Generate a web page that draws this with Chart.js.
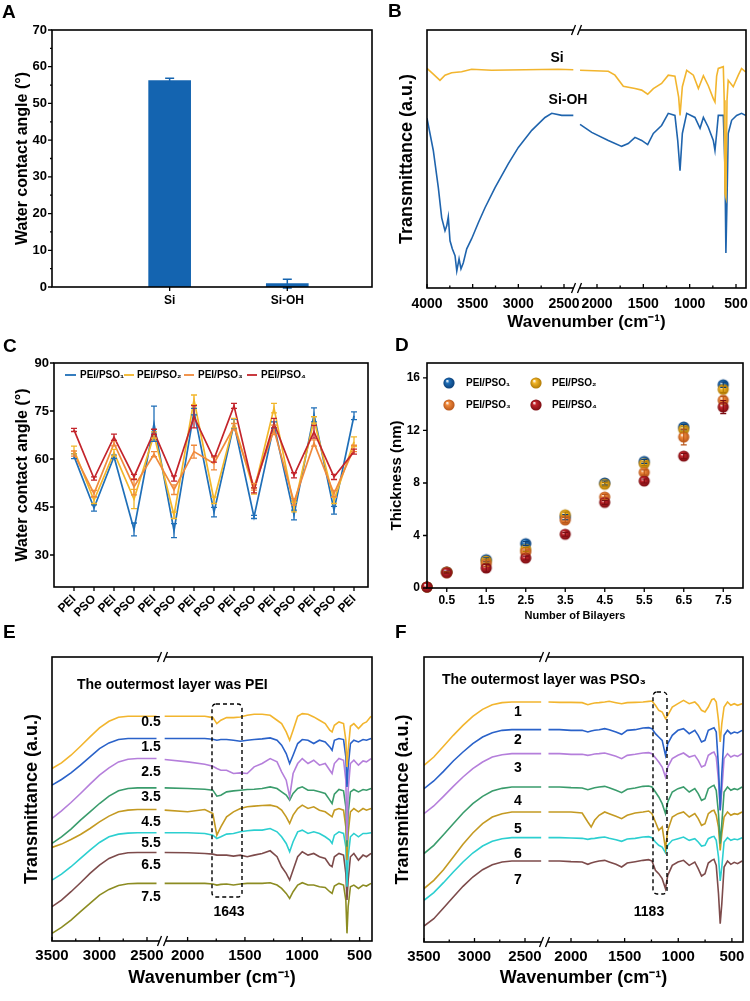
<!DOCTYPE html>
<html><head><meta charset="utf-8">
<script src="https://cdn.jsdelivr.net/npm/chart.js@4.4.1/dist/chart.umd.min.js"></script>
<style>
html,body{margin:0;padding:0;background:#fff}
body{width:750px;height:1001px;position:relative;overflow:hidden}
canvas{position:absolute}
</style></head><body>
<canvas id="cA" width="375" height="340" style="left:0;top:0"></canvas>
<canvas id="cB" width="375" height="340" style="left:375px;top:0"></canvas>
<canvas id="cC" width="375" height="290" style="left:0;top:335px"></canvas>
<canvas id="cD" width="375" height="290" style="left:375px;top:335px"></canvas>
<canvas id="cE" width="375" height="381" style="left:0;top:620px"></canvas>
<canvas id="cF" width="375" height="381" style="left:375px;top:620px"></canvas>
<script>
// ---------------- DATA ----------------
// Panel A
const catsA = ['Si', 'Si-OH'];
const angleA = [56.2, 0.9];
const angleErrA = [0.65, 1.2];

// Panel B (FTIR, transmittance a.u.)
const wnSiOH = [4000,3931,3876,3839,3803,3784,3767,3748,3723,3693,3674,3649,3628,3603,3565,3511,3438,3365,3255,3109,3000,2853,2708,2634,2525,2398,
  2183,2057,1878,1734,1663,1590,1518,1453,1392,1303,1231,1159,1129,1104,1079,1032,943,888,852,799,745,727,709,691,637,619,609,597,584,547,493,440,397];
const tSiOH = [65.8,53.3,38.9,27.2,22.2,24.1,27.6,18.3,15.2,12.5,6.6,11.3,7.4,9.7,15.2,19.1,25.3,31.1,38.9,48.2,54.5,61.1,66.1,67.7,66.9,66.9,
  63.4,60.3,57.2,54.9,56.0,58.4,57.2,55.6,59.9,63.0,67.7,66.9,57.2,45.5,59.9,67.7,66.1,61.9,66.1,62.3,57.2,53.3,59.9,66.9,66.9,46.7,13.6,33.9,59.9,65.0,66.9,67.7,66.9];
const wnSi = [4000,3931,3858,3803,3730,3621,3511,3293,2927,2563,2398,
  2183,1878,1806,1716,1590,1518,1453,1392,1303,1231,1159,1119,1104,1079,1032,960,906,852,799,745,727,709,691,637,627,619,609,597,584,530,475,440,397];
const tSi = [85.1,82.9,80.5,82.5,83.4,83.8,84.8,84.4,84.6,84.8,84.6,
  84.4,84.0,82.5,78.2,77.3,76.7,75.1,77.3,79.3,82.5,82.1,74.0,66.9,78.0,84.4,82.5,77.3,82.3,78.4,73.4,72.1,82.1,85.1,85.8,72.8,36.6,35.1,72.8,80.5,78.0,82.5,85.1,83.8];
const ticksB = [4000,3500,3000,2500,2000,1500,1000,500];
const minorB = [3750,3250,2750,1750,1250,750];

// Panel C
const layersC = ['PEI','PSO','PEI','PSO','PEI','PSO','PEI','PSO','PEI','PSO','PEI','PSO','PEI','PSO','PEI'];
const seriesNames = ['PEI/PSO\u2081','PEI/PSO\u2082','PEI/PSO\u2083','PEI/PSO\u2084'];
const wcaPSO1 = [60.9,44.7,60.7,38.0,71.0,37.6,74.8,43.4,71.0,41.9,70.6,42.5,73.8,44.0,73.5];
const wcaPSO2 = [62.8,47.1,62.0,47.5,67.5,42.4,78.5,47.1,71.2,50.0,75.9,45.0,72.2,47.1,65.4];
const wcaPSO3 = [61.7,49.2,64.9,51.3,61.5,50.4,62.3,58.6,70.1,51.3,69.1,46.6,65.0,49.2,63.3];
const wcaPSO4 = [69.1,53.9,66.8,54.4,68.5,53.9,73.2,60.0,76.6,50.2,71.2,54.9,68.5,54.4,62.3];
const wcaErr1 = [0.8,1.0,0.5,2.0,5.5,2.2,1.0,1.5,1.5,0.5,1.0,1.5,2.2,1.2,1.2];
const wcaErr2 = [1.2,1.0,1.0,3.0,1.0,1.0,1.5,1.0,1.5,1.0,1.5,1.5,1.0,1.0,1.5];
const wcaErr3 = [0.8,1.0,0.8,2.5,0.8,1.5,2.0,2.0,1.0,1.0,1.5,1.0,1.0,1.0,1.0];
const wcaErr4 = [0.5,0.5,1.0,0.8,0.8,0.8,3.5,1.0,0.8,0.8,1.5,0.8,2.0,0.8,0.8];

// Panel D
const bilayersD = [0,0.5,1.5,2.5,3.5,4.5,5.5,6.5,7.5];
const thkPSO1 = [0.08,1.22,2.16,3.38,5.40,8.00,9.64,12.26,15.48];
const thkPSO2 = [0.08,1.20,2.06,2.94,5.58,7.90,9.47,12.08,15.13];
const thkPSO3 = [0.08,1.19,1.85,2.74,5.18,6.93,8.80,11.50,14.30];
const thkPSO4 = [0.08,1.17,1.52,2.28,4.09,6.52,8.15,10.05,13.78];
const thkErr1 = [0,0.05,0.15,0.15,0.2,0.15,0.15,0.2,0.2];
const thkErr2 = [0,0.05,0.15,0.15,0.2,0.15,0.15,0.2,0.25];
const thkErr3 = [0,0.05,0.2,0.15,0.2,0.2,0.2,0.6,0.3];
const thkErr4 = [0,0.05,0.3,0.15,0.15,0.15,0.15,0.2,0.5];
const ticksD = [0.5,1.5,2.5,3.5,4.5,5.5,6.5,7.5];

// Panel E (outermost PEI)
const wnE = [3500,3400,3300,3200,3100,3000,2900,2800,2700,2600,2500,2400,
  2200,2000,1850,1780,1745,1710,1660,1600,1540,1480,1420,1350,1280,1220,1180,1140,1110,1080,1040,1000,950,900,850,800,760,740,720,680,640,620,610,600,580,550,510,470,440,400];
const labelsE = ['0.5','1.5','2.5','3.5','4.5','5.5','6.5','7.5'];
const specE05 = [515,532,555,582,610,637,657,669,672,672,672,672,
  672,672,672,668,650,660,668,668,670,675,678,678,675,660,650,625,600,630,672,680,678,670,660,650,630,625,645,655,650,600,520,570,642,650,635,650,655,672];
const specE15 = [465,482,502,525,550,575,592,602,605,605,605,605,
  605,605,605,603,600,602,602,600,597,600,602,604,607,600,585,560,530,555,590,602,600,590,600,595,580,570,600,605,602,550,460,520,590,600,595,602,600,605];
const specE25 = [365,388,413,440,468,495,517,535,543,545,545,545,
  542,535,528,522,515,510,510,500,502,500,520,530,545,535,505,480,430,500,530,545,530,540,525,530,510,500,530,545,540,480,300,450,530,540,525,538,535,545];
const specE35 = [290,310,333,360,385,410,432,448,455,457,457,457,
  457,455,453,450,432,435,445,448,450,452,453,455,460,455,445,435,420,440,455,460,450,450,445,440,420,410,438,452,448,400,280,380,445,452,445,452,450,455];
const specE45 = [278,288,302,317,335,355,372,385,390,392,392,392,
  390,385,392,380,315,340,370,385,395,400,402,404,405,400,390,370,350,375,395,405,395,400,390,385,375,370,390,395,390,340,240,320,385,395,385,395,390,395];
const specE55 = [180,198,220,245,270,293,310,318,321,322,322,322,
  322,322,320,315,305,310,318,320,325,328,330,330,335,325,310,290,265,295,325,330,320,325,320,310,300,290,315,325,320,280,160,250,310,320,310,320,320,322];
const specE65 = [100,120,145,172,200,225,245,257,262,263,263,263,
  263,262,260,258,255,255,255,252,255,250,255,260,268,250,220,200,180,210,250,265,255,260,250,245,225,220,250,260,255,200,120,180,250,260,240,255,250,260];
const specE75 = [20,38,60,85,110,135,152,164,169,170,170,170,
  170,170,170,168,165,167,168,165,168,170,170,170,172,165,155,140,125,145,165,172,165,165,160,158,145,140,162,170,165,120,20,100,160,165,155,165,162,170];
const ticksEF = [3500,3000,2500,2000,1500,1000,500];
const minorEF = [3250,2750,1750,1250,750];

// Panel F (outermost PSO3)
const wnF = [3500,3403,3307,3210,3114,3017,2920,2824,2727,2630,2534,2437,2340,
  2210,2106,2000,1896,1843,1812,1780,1738,1686,1644,1581,1528,1476,1402,1329,1276,1245,1213,1182,1150,1119,1098,1056,1003,951,898,846,814,783,751,720,688,667,646,625,609,594,573,541,510,478,447,405];
const labelsF = ['1','2','3','4','5','6','7'];
const specF1 = [525,550,582,615,645,672,693,707,713,715,715,715,715,
  715,714,714,713,707,710,712,713,715,717,713,710,713,714,715,717,718,705,690,685,665,675,700,710,720,710,715,705,690,685,700,722,725,715,660,595,650,700,715,705,710,705,710];
const specF2 = [455,478,507,538,565,590,610,623,630,632,632,632,632,
  632,632,630,630,625,628,630,632,635,632,625,618,630,632,637,638,635,620,610,600,555,590,615,630,635,620,630,615,595,600,630,635,638,625,520,390,500,615,630,620,625,622,630];
const specF3 = [380,403,432,462,490,515,535,550,557,560,560,560,560,
  560,560,558,558,555,557,559,560,562,558,552,545,555,558,562,563,560,548,535,520,490,520,545,555,562,550,555,540,520,525,555,562,565,550,480,390,450,545,560,550,555,552,560];
const specF4 = [260,285,317,350,382,410,432,448,456,460,460,460,460,
  460,460,458,457,452,455,458,460,462,458,450,443,453,457,462,463,460,445,430,410,380,415,445,455,460,445,455,440,420,425,455,462,465,450,380,290,350,445,460,450,455,452,460];
const specF5 = [155,180,212,250,288,322,350,370,380,385,385,385,385,
  385,385,385,382,355,340,360,375,385,380,372,365,375,382,385,388,380,355,330,340,275,330,370,380,385,370,380,365,345,350,380,388,390,375,340,270,320,370,385,375,380,378,385];
const specF6 = [120,143,173,205,235,262,283,297,305,308,308,308,308,
  308,308,307,306,303,305,306,308,310,306,302,297,304,306,310,311,308,295,285,280,263,285,300,305,310,300,305,295,283,285,305,310,312,300,250,178,220,295,308,300,304,302,308];
const specF7 = [43,65,97,130,162,190,212,227,235,238,238,238,238,
  238,238,236,235,228,232,235,238,240,235,228,220,232,236,240,242,238,210,200,185,155,195,225,235,240,225,235,215,193,200,232,240,243,225,140,50,110,220,238,228,234,230,238];

// ---------------- STYLE ----------------
const FONT = '"Liberation Sans", Arial, Helvetica, sans-serif';
Chart.defaults.font.family = FONT;
Chart.defaults.font.weight = 'bold';
Chart.defaults.color = '#000';
Chart.defaults.animation = false;

const colSeries = ['#1f6fb8', '#f2b62a', '#f08a3c', '#c3242b'];
const colE = ['#f2b52e', '#2a62c9', '#b57fdb', '#3a9c6c', '#c49a22', '#2ccfd0', '#7d4b4b', '#8c8c22'];
const colF = ['#f2b52e', '#2a62c9', '#b57fdb', '#3a9c6c', '#c49a22', '#2ccfd0', '#7d4b4b'];

function fit(size, isX) {
  return s => { if (isX) s.height = size; else s.width = size;
    s.paddingLeft = 0; s.paddingRight = 0; s.paddingTop = 0; s.paddingBottom = 0; };
}
function mapper(segs) {
  return w => { for (const s of segs) if (w >= s.lo && w <= s.hi) return s.u1 + (w - s.w1) * (s.u2 - s.u1) / (s.w2 - s.w1); return null; };
}
function brokenPoints(wn, vals, segs) {
  const m = mapper(segs); const out = []; let prev = null;
  wn.forEach((w, i) => {
    const si = segs.findIndex(s => w >= s.lo && w <= s.hi);
    if (prev !== null && si !== prev) out.push({x: out[out.length - 1].x, y: null});
    prev = si;
    out.push({x: m(w), y: vals[i]});
  });
  return out;
}
function ball(color, dark, r) {
  const c = document.createElement('canvas'); const s = Math.ceil(r * 2 + 2); c.width = c.height = s;
  const g = c.getContext('2d'); const m = s / 2;
  const gr = g.createRadialGradient(m - r * 0.35, m - r * 0.4, r * 0.05, m, m, r);
  gr.addColorStop(0, 'rgba(255,255,255,0.95)'); gr.addColorStop(0.3, color); gr.addColorStop(1, dark);
  g.fillStyle = gr; g.beginPath(); g.arc(m, m, r, 0, Math.PI * 2); g.fill();
  return c;
}

const decorCfg = {};
const decor = {
  id: 'decor',
  afterDatasetsDraw(chart) {
    const ctx = chart.ctx;
    chart.data.datasets.forEach((ds, di) => {
      if (!ds.errs) return;
      const meta = chart.getDatasetMeta(di);
      const ys = chart.scales[meta.yAxisID];
      ctx.save(); ctx.strokeStyle = ds.errColor || ds.borderColor; ctx.lineWidth = ds.errWidth || 1.2;
      meta.data.forEach((el, i) => {
        const e = ds.errs[i]; if (!e) return;
        const raw = ds.data[i]; const v = (typeof raw === 'object') ? raw.y : raw;
        const x = el.x, y1 = ys.getPixelForValue(v + e), y2 = ys.getPixelForValue(v - e);
        const c = ds.errCap || 3;
        ctx.beginPath(); ctx.moveTo(x, y1); ctx.lineTo(x, y2);
        ctx.moveTo(x - c, y1); ctx.lineTo(x + c, y1); ctx.moveTo(x - c, y2); ctx.lineTo(x + c, y2); ctx.stroke();
      });
      ctx.restore();
    });
  },
  afterDraw(chart) {
    const cfg = decorCfg[chart.canvas.id]; if (!cfg) return;
    const ctx = chart.ctx, a = chart.chartArea;
    ctx.save();
    ctx.strokeStyle = '#000'; ctx.lineWidth = 1.6;
    ctx.strokeRect(a.left, a.top, a.right - a.left, a.bottom - a.top);
    (cfg.ticks || []).forEach(t => {
      const sc = chart.scales[t.axis];
      ctx.lineWidth = 1.3; ctx.beginPath();
      t.values.forEach(v => {
        const p = sc.getPixelForValue(v); const d = t.out ? t.len : -t.len;
        if (t.axis === 'x') { ctx.moveTo(p, a.bottom); ctx.lineTo(p, a.bottom + d); }
        else { ctx.moveTo(a.left, p); ctx.lineTo(a.left - d, p); }
      });
      ctx.stroke();
    });
    (cfg.breaks || []).forEach(u => {
      const bx = chart.scales.x.getPixelForValue(u);
      [a.top, a.bottom].forEach(y => {
        ctx.fillStyle = '#fff'; ctx.fillRect(bx - 3, y - 2, 6, 4);
        ctx.beginPath(); ctx.lineWidth = 1.3; ctx.strokeStyle = '#000';
        ctx.moveTo(bx - 5.5, y + 5); ctx.lineTo(bx - 1.5, y - 5);
        ctx.moveTo(bx + 0.5, y + 5); ctx.lineTo(bx + 4.5, y - 5);
        ctx.stroke();
      });
    });
    (cfg.boxes || []).forEach(b => {
      ctx.save(); ctx.setLineDash([4, 3]); ctx.lineWidth = 1.4; ctx.strokeStyle = '#000';
      ctx.beginPath(); ctx.roundRect(b.x1, b.y1, b.x2 - b.x1, b.y2 - b.y1, 4); ctx.stroke(); ctx.restore();
    });
    if (cfg.legend) {
      const L = cfg.legend;
      L.items.forEach(it => {
        const ds = chart.data.datasets[it.ds];
        if (L.kind === 'line') {
          ctx.strokeStyle = ds.borderColor; ctx.lineWidth = 1.8; ctx.beginPath();
          ctx.moveTo(it.x1, it.y); ctx.lineTo(it.x2, it.y); ctx.stroke();
        } else {
          const img = ds.pointStyle; ctx.drawImage(img, it.x1 - img.width / 2, it.y - img.height / 2);
        }
        ctx.fillStyle = '#000'; ctx.font = `bold ${L.size}px ${FONT}`; ctx.textAlign = 'left'; ctx.textBaseline = 'middle';
        ctx.fillText(ds.label, it.tx, it.y);
      });
    }
    (cfg.texts || []).forEach(t => {
      ctx.save(); ctx.fillStyle = '#000';
      ctx.font = `bold ${t.size}px ${FONT}`;
      ctx.textAlign = t.align || 'center'; ctx.textBaseline = 'middle';
      ctx.translate(t.x, t.y); if (t.rot) ctx.rotate(t.rot * Math.PI / 180);
      ctx.fillText(t.t, 0, 0); ctx.restore();
    });
    ctx.restore();
  }
};
Chart.register(decor);

const noGrid = {display: false, drawTicks: false};
const base = (pad) => ({responsive: false, maintainAspectRatio: false, events: [],
  layout: {padding: pad}, plugins: {legend: {display: false}, tooltip: {enabled: false}}});

// ---------------- PANEL A ----------------
decorCfg.cA = {
  ticks: [{axis: 'y', values: [0,10,20,30,40,50,60,70], len: 4, out: true},
          {axis: 'y', values: [5,15,25,35,45,55,65], len: 2, out: true},
          {axis: 'x', values: [1,2], len: 4, out: true}],
  texts: [{t: 'A', x: 2, y: 13, size: 19, align: 'left'}]
};
new Chart(document.getElementById('cA'), {
  type: 'bar',
  data: {datasets: [{data: catsA.map((c, i) => ({x: i + 1, y: angleA[i]})), backgroundColor: '#1464b0',
    barThickness: 42, errs: angleErrA, errColor: '#1464b0', errCap: 4.5, errWidth: 1.5}]},
  options: Object.assign(base({left: 0, top: 30, right: 3, bottom: 0}), {
    scales: {
      x: {type: 'linear', min: 0, max: 2.72, offset: false, grid: Object.assign({offset: false}, noGrid), border: {display: false},
        afterBuildTicks: s => { s.ticks = catsA.map((c, i) => ({value: i + 1})); },
        ticks: {callback: (v, i) => catsA[i], font: {size: 12}, padding: 6, maxRotation: 0, autoSkip: false},
        afterFit: fit(53, true)},
      y: {min: 0, max: 70, grid: noGrid, border: {display: false},
        afterBuildTicks: s => { s.ticks = [0,10,20,30,40,50,60,70].map(v => ({value: v})); },
        ticks: {font: {size: 13}, padding: 5},
        title: {display: true, text: 'Water contact angle (°)', font: {size: 16}, padding: {top: 13.4, bottom: 0}},
        afterFit: fit(52, false)}
    }
  })
});

// ---------------- PANEL B ----------------
const segsB = [{lo: 2350, hi: 4000, w1: 4000, u1: 0, w2: 2500, u2: 137},
               {lo: 300, hi: 2250, w1: 2000, u1: 170, w2: 500, u2: 309}];
const mB = mapper(segsB);
decorCfg.cB = {
  ticks: [{axis: 'x', values: ticksB.map(mB), len: 4, out: false},
          {axis: 'x', values: minorB.map(mB), len: 2.5, out: false}],
  breaks: [150],
  texts: [{t: 'B', x: 13, y: 12, size: 19, align: 'left'},
          {t: 'Si', x: 182, y: 58, size: 14}, {t: 'Si-OH', x: 193, y: 100, size: 14}]
};
new Chart(document.getElementById('cB'), {
  type: 'line',
  data: {datasets: [
    {label: 'Si', data: brokenPoints(wnSi, tSi, segsB), borderColor: '#f2b52e', borderWidth: 1.6, pointRadius: 0, spanGaps: false},
    {label: 'Si-OH', data: brokenPoints(wnSiOH, tSiOH, segsB), borderColor: '#1f64ad', borderWidth: 1.6, pointRadius: 0, spanGaps: false}
  ]},
  options: Object.assign(base({left: 0, top: 30, right: 4, bottom: 0}), {
    scales: {
      x: {type: 'linear', min: 0, max: 319, grid: noGrid, border: {display: false},
        afterBuildTicks: s => { s.ticks = ticksB.map(w => ({value: mB(w)})); },
        ticks: {callback: (v, i) => String(ticksB[i]), font: {size: 14}, padding: 8, maxRotation: 0, autoSkip: false},
        title: {display: true, text: 'Wavenumber (cm\u207B\u00B9)', font: {size: 17}, padding: {top: 0, bottom: 7.8}},
        afterFit: fit(52, true)},
      y: {min: 0, max: 100, grid: noGrid, border: {display: false}, ticks: {display: false},
        title: {display: true, text: 'Transmittance (a.u.)', font: {size: 18}, padding: {top: 21.2, bottom: 0}},
        afterFit: fit(52, false)}
    }
  })
});

// ---------------- PANEL C ----------------
const wcaSeries = [wcaPSO1, wcaPSO2, wcaPSO3, wcaPSO4];
const wcaErrs = [wcaErr1, wcaErr2, wcaErr3, wcaErr4];
decorCfg.cC = {
  ticks: [{axis: 'y', values: [30,45,60,75,90], len: 4, out: true},
          {axis: 'x', values: layersC.map((c, i) => i + 1), len: 4, out: true}],
  legend: {kind: 'line', size: 10, items: [
    {ds: 0, x1: 65, x2: 76, tx: 80, y: 40}, {ds: 1, x1: 124, x2: 134, tx: 137, y: 40},
    {ds: 2, x1: 184, x2: 194, tx: 198, y: 40}, {ds: 3, x1: 247, x2: 257, tx: 261, y: 40}]},
  texts: [{t: 'C', x: 3, y: 12, size: 19, align: 'left'}]
};
new Chart(document.getElementById('cC'), {
  type: 'line',
  data: {datasets: wcaSeries.map((s, k) => ({label: seriesNames[k], data: s.map((v, i) => ({x: i + 1, y: v})),
    borderColor: colSeries[k], borderWidth: 1.7, pointRadius: 0, errs: wcaErrs[k], errCap: 3, errWidth: 1.3, order: 4 - k}))},
  options: Object.assign(base({left: 0, top: 28, right: 7, bottom: 0}), {
    scales: {
      x: {type: 'linear', min: 0, max: 15.7, grid: noGrid, border: {display: false},
        afterBuildTicks: s => { s.ticks = layersC.map((c, i) => ({value: i + 1})); },
        ticks: {callback: (v, i) => layersC[i], font: {size: 12}, padding: 5, minRotation: 45, maxRotation: 45, autoSkip: false},
        afterFit: fit(38, true)},
      y: {min: 20, max: 90, grid: noGrid, border: {display: false},
        afterBuildTicks: s => { s.ticks = [30,45,60,75,90].map(v => ({value: v})); },
        ticks: {font: {size: 13}, padding: 5},
        title: {display: true, text: 'Water contact angle (°)', font: {size: 16}, padding: {top: 13.4, bottom: 0}},
        afterFit: fit(54, false)}
    }
  })
});

// ---------------- PANEL D ----------------
const thkSeries = [thkPSO1, thkPSO2, thkPSO3, thkPSO4];
const thkErrs = [thkErr1, thkErr2, thkErr3, thkErr4];
const darkSeries = ['#0b3f78', '#b07a05', '#b8561a', '#7a0d12'];
const balls = colSeries.map((c, k) => ball(c, darkSeries[k], 5.6));
decorCfg.cD = {
  ticks: [{axis: 'y', values: [0,4,8,12,16], len: 4, out: true},
          {axis: 'x', values: ticksD, len: 4, out: true}],
  legend: {kind: 'ball', size: 10, items: [
    {ds: 0, x1: 74, tx: 91, y: 48}, {ds: 1, x1: 161, tx: 177, y: 48},
    {ds: 2, x1: 74, tx: 91, y: 70}, {ds: 3, x1: 161, tx: 177, y: 70}]},
  texts: [{t: 'D', x: 20, y: 11, size: 19, align: 'left'},
          {t: 'Number of Bilayers', x: 200, y: 281, size: 11}]
};
new Chart(document.getElementById('cD'), {
  type: 'scatter',
  data: {datasets: thkSeries.map((s, k) => ({label: seriesNames[k], data: s.map((v, i) => ({x: bilayersD[i], y: v})),
    pointStyle: balls[k], pointRadius: 6, borderColor: darkSeries[k], errs: thkErrs[k], errColor: darkSeries[k], errCap: 3, errWidth: 1.1,
    order: 4 - k, clip: 6}))},
  options: Object.assign(base({left: 0, top: 28, right: 7, bottom: 0}), {
    scales: {
      x: {type: 'linear', min: 0, max: 8, grid: noGrid, border: {display: false},
        afterBuildTicks: s => { s.ticks = ticksD.map(v => ({value: v})); },
        ticks: {callback: (v) => v.toFixed(1), font: {size: 12}, padding: 5, maxRotation: 0, autoSkip: false},
        afterFit: fit(37, true)},
      y: {min: 0, max: 17.14, grid: noGrid, border: {display: false},
        afterBuildTicks: s => { s.ticks = [0,4,8,12,16].map(v => ({value: v})); },
        ticks: {font: {size: 12}, padding: 7},
        title: {display: true, text: 'Thickness (nm)', font: {size: 15}, padding: {top: 13, bottom: 0}},
        afterFit: fit(52, false)}
    }
  })
});

// ---------------- PANEL E ----------------
const segsE = [{lo: 2350, hi: 3500, w1: 3500, u1: 0, w2: 2500, u2: 95},
               {lo: 350, hi: 2250, w1: 2000, u1: 135.6, w2: 500, u2: 307.6}];
const mE = mapper(segsE);
const specE = [specE05, specE15, specE25, specE35, specE45, specE55, specE65, specE75];
const posLabE = [102, 127, 152, 177, 202, 223, 245, 277];
decorCfg.cE = {
  ticks: [{axis: 'x', values: ticksEF.map(mE), len: 4, out: false},
          {axis: 'x', values: minorEF.map(mE), len: 2.5, out: false}],
  breaks: [111],
  boxes: [{x1: 212, y1: 84, x2: 242, y2: 277}],
  texts: [{t: 'E', x: 3, y: 13, size: 19, align: 'left'},
          {t: 'The outermost layer was PEI', x: 77, y: 65, size: 14, align: 'left'},
          {t: '1643', x: 229, y: 292, size: 14}]
    .concat(labelsE.map((l, i) => ({t: l, x: 151, y: posLabE[i], size: 14})))
};
new Chart(document.getElementById('cE'), {
  type: 'line',
  data: {datasets: specE.map((s, k) => ({label: labelsE[k], data: brokenPoints(wnE, s, segsE),
    borderColor: colE[k], borderWidth: 1.6, pointRadius: 0, spanGaps: false}))},
  options: Object.assign(base({left: 0, top: 37, right: 3, bottom: 0}), {
    scales: {
      x: {type: 'linear', min: 0, max: 320, grid: noGrid, border: {display: false},
        afterBuildTicks: s => { s.ticks = ticksEF.map(w => ({value: mE(w)})); },
        ticks: {callback: (v, i) => String(ticksEF[i]), font: {size: 15}, padding: 6, maxRotation: 0, autoSkip: false},
        title: {display: true, text: 'Wavenumber (cm\u207B\u00B9)', font: {size: 18}, padding: {top: 0, bottom: 12.2}},
        afterFit: fit(60, true)},
      y: {min: -3, max: 850, grid: noGrid, border: {display: false}, ticks: {display: false},
        title: {display: true, text: 'Transmittance (a.u.)', font: {size: 18}, padding: {top: 21.2, bottom: 0}},
        afterFit: fit(52, false)}
    }
  })
});

// ---------------- PANEL F ----------------
const segsF = [{lo: 2300, hi: 3500, w1: 3500, u1: 0, w2: 2500, u2: 101},
               {lo: 350, hi: 2250, w1: 2000, u1: 147, w2: 500, u2: 307.9}];
const mF = mapper(segsF);
const specF = [specF1, specF2, specF3, specF4, specF5, specF6, specF7];
const posLabF = [92, 120, 148, 181, 209, 234, 260];
decorCfg.cF = {
  ticks: [{axis: 'x', values: ticksEF.map(mF), len: 4, out: false},
          {axis: 'x', values: minorEF.map(mF), len: 2.5, out: false}],
  breaks: [121],
  boxes: [{x1: 278, y1: 72, x2: 292, y2: 274}],
  texts: [{t: 'F', x: 20, y: 13, size: 19, align: 'left'},
          {t: 'The outermost layer was PSO\u2083', x: 67, y: 60, size: 14, align: 'left'},
          {t: '1183', x: 274, y: 292, size: 14}]
    .concat(labelsF.map((l, i) => ({t: l, x: 143, y: posLabF[i], size: 14})))
};
new Chart(document.getElementById('cF'), {
  type: 'line',
  data: {datasets: specF.map((s, k) => ({label: labelsF[k], data: brokenPoints(wnF, s, segsF),
    borderColor: colF[k], borderWidth: 1.6, pointRadius: 0, spanGaps: false}))},
  options: Object.assign(base({left: 0, top: 37, right: 7, bottom: 0}), {
    scales: {
      x: {type: 'linear', min: 0, max: 319, grid: noGrid, border: {display: false},
        afterBuildTicks: s => { s.ticks = ticksEF.map(w => ({value: mF(w)})); },
        ticks: {callback: (v, i) => String(ticksEF[i]), font: {size: 15}, padding: 6, maxRotation: 0, autoSkip: false},
        title: {display: true, text: 'Wavenumber (cm\u207B\u00B9)', font: {size: 18}, padding: {top: 0, bottom: 12.2}},
        afterFit: fit(59, true)},
      y: {min: -5, max: 850, grid: noGrid, border: {display: false}, ticks: {display: false},
        title: {display: true, text: 'Transmittance (a.u.)', font: {size: 18}, padding: {top: 17.2, bottom: 0}},
        afterFit: fit(49, false)}
    }
  })
});
</script></body></html>
